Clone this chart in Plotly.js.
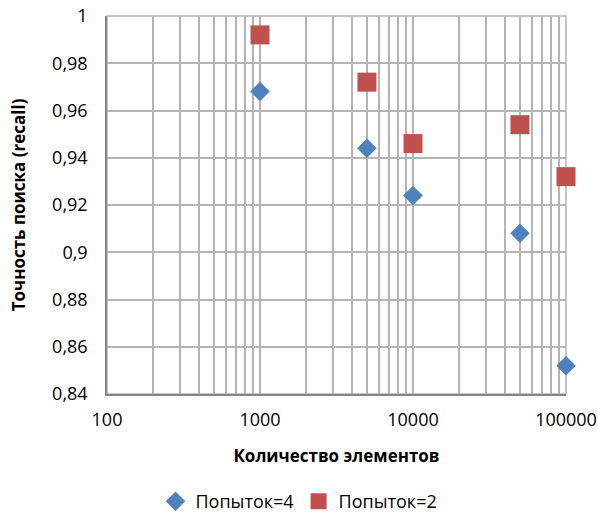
<!DOCTYPE html>
<html><head><meta charset="utf-8">
<script src="https://cdn.plot.ly/plotly-3.0.1.min.js"></script>
<style>body{margin:0}#c{width:598px;height:524px}</style>
</head><body><div id="c"></div>
<script>
const xValues = [1000, 5000, 10000, 50000, 100000];
const recall4 = [0.968, 0.944, 0.924, 0.908, 0.852];
const recall2 = [0.992, 0.972, 0.946, 0.954, 0.932];
const seriesNames = ['Попыток=4', 'Попыток=2'];
const xTickVals = [100, 1000, 10000, 100000];
const xTickText = ['100', '1000', '10000', '100000'];
const yTickVals = [0.84, 0.86, 0.88, 0.9, 0.92, 0.94, 0.96, 0.98, 1];
const yTickText = ['0,84', '0,86', '0,88', '0,9', '0,92', '0,94', '0,96', '0,98', '1'];

const font = '"Open Sans", sans-serif';
const grid = '#b4b4b4';
const traces = [
  {x: xValues, y: recall4, name: seriesNames[0], type: 'scatter', mode: 'markers', cliponaxis: false,
   marker: {symbol: 'diamond', size: 15, color: '#4f81bd'}},
  {x: xValues, y: recall2, name: seriesNames[1], type: 'scatter', mode: 'markers', cliponaxis: false,
   marker: {symbol: 'square', size: 19, color: '#c0504d'}}
];
const layout = {
  width: 598, height: 524,
  margin: {l: 107, r: 32, t: 16, b: 130},
  paper_bgcolor: '#fff', plot_bgcolor: '#fff',
  font: {family: font, size: 18, color: '#000'},
  showlegend: true,
  legend: {orientation: 'h', xref: 'container', yref: 'container', x: 0.5, xanchor: 'center',
           y: 0.043, yanchor: 'middle', font: {size: 18}, itemwidth: 20, tracegroupgap: 0},
  shapes: [{type: 'rect', xref: 'paper', yref: 'paper', x0: 0, x1: 1, y0: 0, y1: 1,
            line: {color: grid, width: 1.5}, layer: 'below'}],
  xaxis: {type: 'log', range: [2, 5], tickmode: 'array', tickvals: xTickVals, ticktext: xTickText,
          showgrid: true, gridcolor: grid, gridwidth: 1.5, zeroline: false,
          showline: true, linecolor: '#868686', linewidth: 1.5, ticks: '', ticklabelstandoff: 9,
          minor: {dtick: 'D1', showgrid: true, gridcolor: grid, gridwidth: 1.5},
          title: {text: '<b>Количество элементов</b>', font: {size: 17}, standoff: 20}},
  yaxis: {range: [0.84, 1], tickmode: 'array', tickvals: yTickVals, ticktext: yTickText,
          showgrid: true, gridcolor: grid, gridwidth: 1.5, zeroline: false,
          showline: true, linecolor: '#868686', linewidth: 1.5, ticks: '', ticklabelstandoff: 14,
          title: {text: '<b>Точность поиска (recall)</b>', font: {size: 17}, standoff: 22}}
};
Plotly.newPlot('c', traces, layout, {displayModeBar: false});
</script></body></html>
